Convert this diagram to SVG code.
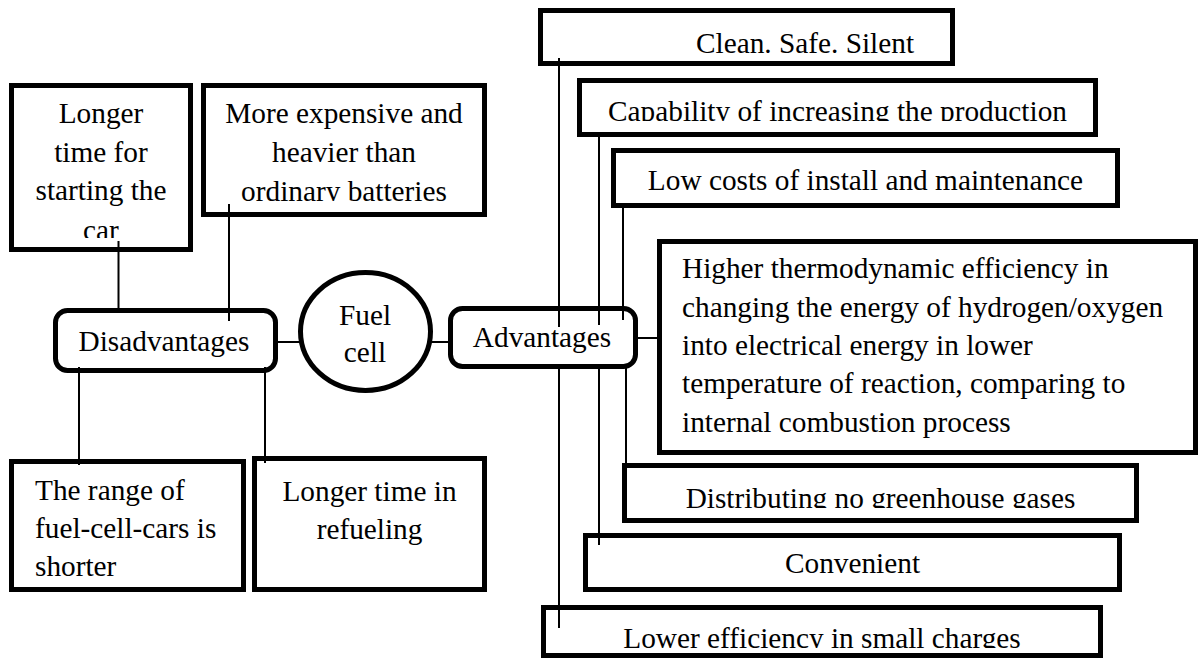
<svg xmlns="http://www.w3.org/2000/svg" width="1198" height="660" viewBox="0 0 1198 660" font-family="'Liberation Serif', 'Times New Roman', 'DejaVu Serif', serif">
<style>
.box{fill:#fff;stroke:#000;stroke-width:5}
.ln{stroke:#000;stroke-width:2;fill:none}
.t{font-family:'Liberation Serif','Times New Roman','DejaVu Serif',serif;font-size:29.3px;fill:#000}
.c{text-anchor:middle}
</style>
<defs>
<clipPath id="cpLonger"><rect x="14" y="88" width="174" height="150"/></clipPath>
<clipPath id="cpMore"><rect x="206" y="88" width="276" height="113"/></clipPath>
<clipPath id="cpClean"><rect x="543" y="13" width="407" height="40"/></clipPath>
<clipPath id="cpCap"><rect x="582" y="83" width="511" height="38"/></clipPath>
<clipPath id="cpDist"><rect x="627" y="468" width="507" height="40"/></clipPath>
<clipPath id="cpLower"><rect x="546" y="610" width="552" height="38"/></clipPath>
</defs>
<rect width="1198" height="660" fill="#fff"/>

<g id="n-longer">
<rect class="box" x="11.5" y="85.5" width="179" height="164"/>
<g clip-path="url(#cpLonger)">
<text class="t c" x="101" y="123">Longer</text>
<text class="t c" x="101" y="162">time for</text>
<text class="t c" x="101" y="200">starting the</text>
<text class="t c" x="101" y="240">car</text>
</g>
</g>

<g id="n-more">
<rect class="box" x="203.5" y="85.5" width="281" height="129"/>
<g clip-path="url(#cpMore)">
<text class="t c" x="344" y="123">More expensive and</text>
<text class="t c" x="344" y="162">heavier than</text>
<text class="t c" x="344" y="201">ordinary batteries</text>
</g>
</g>

<g id="n-disadv">
<rect class="box" x="55.5" y="310.5" width="220" height="60" rx="12"/>
<text class="t c" x="164" y="351">Disadvantages</text>
</g>

<g id="n-fuel">
<ellipse class="box" cx="365.5" cy="331.5" rx="65" ry="59"/>
<text class="t c" x="365" y="325">Fuel</text>
<text class="t c" x="365" y="362">cell</text>
</g>

<g id="n-adv">
<rect class="box" x="450.5" y="308.5" width="185" height="58" rx="12"/>
<text class="t c" x="542" y="347">Advantages</text>
</g>

<g id="n-range">
<rect class="box" x="11.5" y="461.5" width="232" height="128"/>
<text class="t" x="35" y="500">The range of</text>
<text class="t" x="35" y="538">fuel-cell-cars is</text>
<text class="t" x="35" y="576">shorter</text>
</g>

<g id="n-refuel">
<rect class="box" x="254.5" y="458.5" width="230" height="131"/>
<text class="t c" x="369.5" y="501">Longer time in</text>
<text class="t c" x="369.5" y="539">refueling</text>
</g>

<g id="n-clean">
<rect class="box" x="540.5" y="10.5" width="412" height="53"/>
<text class="t" x="696" y="53" clip-path="url(#cpClean)">Clean. Safe. Silent</text>
</g>

<g id="n-cap">
<rect class="box" x="579.5" y="80.5" width="516" height="54"/>
<text class="t c" x="837.5" y="121" clip-path="url(#cpCap)">Capability of increasing the production</text>
</g>

<g id="n-low">
<rect class="box" x="613.5" y="150.5" width="504" height="55"/>
<text class="t c" x="865.5" y="190">Low costs of install and maintenance</text>
</g>

<g id="n-higher">
<rect class="box" x="659.5" y="241.5" width="536" height="211"/>
<text class="t" x="682" y="278">Higher thermodynamic efficiency in</text>
<text class="t" x="682" y="317">changing the energy of hydrogen/oxygen</text>
<text class="t" x="682" y="355">into electrical energy in lower</text>
<text class="t" x="682" y="393">temperature of reaction, comparing to</text>
<text class="t" x="682" y="432">internal combustion process</text>
</g>

<g id="n-dist">
<rect class="box" x="624.5" y="465.5" width="512" height="55"/>
<text class="t c" x="880.5" y="508" clip-path="url(#cpDist)">Distributing no greenhouse gases</text>
</g>

<g id="n-conv">
<rect class="box" x="585.5" y="535.5" width="534" height="54"/>
<text class="t c" x="852.5" y="573">Convenient</text>
</g>

<g id="n-lower">
<rect class="box" x="543.5" y="607.5" width="557" height="48"/>
<text class="t c" x="822" y="648" clip-path="url(#cpLower)">Lower efficiency in small charges</text>
</g>

<g id="connectors">
<line class="ln" x1="118.5" y1="241" x2="118.5" y2="313"/>
<line class="ln" x1="229" y1="204" x2="229" y2="321"/>
<line class="ln" x1="79" y1="367" x2="79" y2="465"/>
<line class="ln" x1="265" y1="367" x2="265" y2="463"/>
<line class="ln" x1="278" y1="342" x2="300" y2="342"/>
<line class="ln" x1="431" y1="342" x2="450" y2="342"/>
<line class="ln" x1="636" y1="338" x2="659" y2="338"/>
<line class="ln" x1="559" y1="58" x2="559" y2="327"/>
<line class="ln" x1="559" y1="367" x2="559" y2="628"/>
<line class="ln" x1="599" y1="135" x2="599" y2="325"/>
<line class="ln" x1="599" y1="367" x2="599" y2="545"/>
<line class="ln" x1="623" y1="206" x2="623" y2="320"/>
<line class="ln" x1="626" y1="367" x2="626" y2="465"/>
</g>
</svg>
